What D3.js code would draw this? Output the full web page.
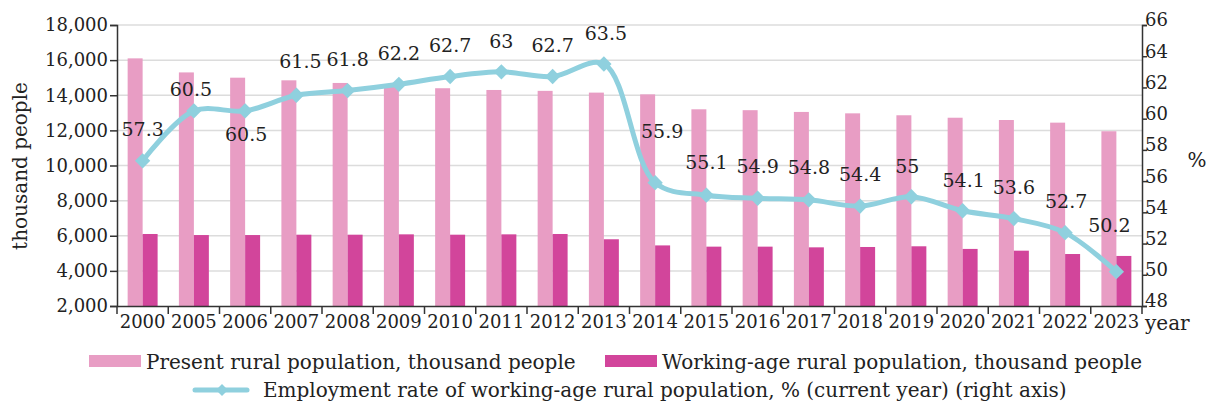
<!DOCTYPE html>
<html>
<head>
<meta charset="utf-8">
<script src="https://cdn.jsdelivr.net/npm/d3@7"></script>
<style>
  body { margin: 0; background: #fff; }
  svg text { font-family: "DejaVu Serif", serif; fill: #222; }
</style>
</head>
<body>
<svg width="1209" height="403"></svg>
<script>
const years = ["2000","2005","2006","2007","2008","2009","2010","2011","2012","2013",
               "2014","2015","2016","2017","2018","2019","2020","2021","2022","2023"];
const presentPop = [16100,15300,15000,14850,14700,14550,14400,14300,14250,14150,
                    14050,13200,13150,13050,12970,12860,12720,12590,12440,11950];
const workingPop = [6100,6040,6040,6060,6060,6080,6060,6080,6100,5800,
                    5450,5380,5380,5340,5360,5400,5250,5150,4960,4850];
const employRate = [57.3,60.5,60.5,61.5,61.8,62.2,62.7,63,62.7,63.5,
                    55.9,55.1,54.9,54.8,54.4,55,54.1,53.6,52.7,50.2];
const leftTicks = [2000,4000,6000,8000,10000,12000,14000,16000,18000];
const rightTicks = [48,50,52,54,56,58,60,62,64,66];

// label nudges [dx, dy] relative to each point
const labelShift = [[0,-31],[-3,-22],[1,23],[4,-34],[0,-31],[0,-31],[0,-31],[0,-30],[0,-31],[2,-31],
                    [7,-51],[0,-33],[0,-32],[0,-32],[0,-32],[-4,-30],[1,-30],[0,-31],[1,-31],[-7,-46]];

const svg = d3.select("svg");
const mLeft = 117, mRight = 1142, mTop = 25, mBottom = 306;
const pink = "#e89dc4", magenta = "#d2459b", blue = "#8fd0de";

const x = d3.scaleBand().domain(years).range([mLeft, mRight]);
const xs = d3.scaleBand().domain(["present","working"]).range([0, x.bandwidth()]).paddingOuter(0.71);
const yL = d3.scaleLinear().domain([2000, 18000]).range([mBottom, mTop]);
const yR = d3.scaleLinear().domain([48, 66]).range([mBottom, mTop]);

// gridlines
svg.append("g")
  .selectAll("line")
  .data(leftTicks.slice(1))
  .join("line")
  .attr("x1", mLeft).attr("x2", mRight)
  .attr("y1", d => yL(d)).attr("y2", d => yL(d))
  .attr("stroke", "#dcdcdc").attr("stroke-width", 1.5);

// bars
const groups = svg.append("g")
  .selectAll("g")
  .data(years.map((y, i) => ({ year: y, present: presentPop[i], working: workingPop[i] })))
  .join("g")
  .attr("transform", d => `translate(${x(d.year)},0)`);

groups.append("rect")
  .attr("x", xs("present")).attr("width", xs.bandwidth())
  .attr("y", d => yL(d.present)).attr("height", d => yL(2000) - yL(d.present))
  .attr("fill", pink);

groups.append("rect")
  .attr("x", xs("working")).attr("width", xs.bandwidth())
  .attr("y", d => yL(d.working)).attr("height", d => yL(2000) - yL(d.working))
  .attr("fill", magenta);

// axes
const axL = svg.append("g")
  .attr("transform", `translate(${mLeft},0)`)
  .call(d3.axisLeft(yL).tickValues(leftTicks).tickFormat(d3.format(",")).tickSize(7).tickPadding(2));
const axR = svg.append("g")
  .attr("transform", `translate(${mRight},0)`)
  .call(d3.axisRight(yR).tickValues(rightTicks).tickSize(5).tickPadding(-2));
const axB = svg.append("g")
  .attr("transform", `translate(0,${mBottom})`)
  .call(d3.axisBottom(x).tickSize(0).tickPadding(8));

[axL, axR, axB].forEach(a => {
  a.select(".domain").attr("stroke", "#333").attr("stroke-width", 1.5);
  a.selectAll(".tick line").attr("stroke", "#333").attr("stroke-width", 1.5);
  a.selectAll("text").attr("font-size", 18).attr("fill", "#222")
    .attr("font-family", "DejaVu Serif, serif");
});
axR.selectAll("text").attr("dy", "0.05em");
axB.selectAll("text").attr("dy", "0.75em");

// boundary ticks on x axis
svg.append("g")
  .selectAll("line")
  .data(years)
  .join("line")
  .attr("x1", d => x(d)).attr("x2", d => x(d))
  .attr("y1", mBottom).attr("y2", mBottom + 8)
  .attr("stroke", "#333").attr("stroke-width", 1.5);
svg.append("line")
  .attr("x1", mRight).attr("x2", mRight)
  .attr("y1", mBottom).attr("y2", mBottom + 8)
  .attr("stroke", "#333").attr("stroke-width", 1.5);

// line
const cx = i => x(years[i]) + x.bandwidth() / 2;
const line = d3.line()
  .x((d, i) => cx(i))
  .y(d => yR(d))
  .curve(d3.curveCatmullRom.alpha(0.5));

svg.append("path")
  .datum(employRate)
  .attr("d", line)
  .attr("fill", "none")
  .attr("stroke", blue)
  .attr("stroke-width", 5)
  .attr("stroke-linejoin", "round");

const diamond = d3.symbol().type(d3.symbolDiamond2).size(150);
svg.append("g")
  .selectAll("path")
  .data(employRate)
  .join("path")
  .attr("d", diamond)
  .attr("transform", (d, i) => `translate(${cx(i)},${yR(d)})`)
  .attr("fill", blue);

svg.append("g")
  .selectAll("text")
  .data(employRate)
  .join("text")
  .attr("x", (d, i) => cx(i) + labelShift[i][0])
  .attr("y", (d, i) => yR(d) + labelShift[i][1])
  .attr("dy", "0.35em")
  .attr("text-anchor", "middle")
  .attr("font-size", 19)
  .text(d => d);

// axis titles
svg.append("text")
  .attr("transform", "translate(20,166) rotate(-90)")
  .attr("text-anchor", "middle")
  .attr("dy", "0.35em")
  .attr("font-size", 20)
  .text("thousand people");
svg.append("text")
  .attr("x", 1197).attr("y", 160)
  .attr("text-anchor", "middle").attr("dy", "0.35em")
  .attr("font-size", 20)
  .text("%");
svg.append("text")
  .attr("x", 1145).attr("y", 323)
  .attr("dy", "0.35em")
  .attr("font-size", 20)
  .text("year");

// legend
const legend = svg.append("g");
legend.append("rect").attr("x", 89).attr("y", 355).attr("width", 52).attr("height", 12).attr("fill", pink);
legend.append("text").attr("x", 146).attr("y", 362).attr("dy", "0.35em").attr("font-size", 20)
  .text("Present rural population, thousand people");
legend.append("rect").attr("x", 605).attr("y", 355).attr("width", 52).attr("height", 12).attr("fill", magenta);
legend.append("text").attr("x", 662).attr("y", 362).attr("dy", "0.35em").attr("font-size", 20)
  .text("Working-age rural population, thousand people");
legend.append("line").attr("x1", 195).attr("x2", 247).attr("y1", 390).attr("y2", 390)
  .attr("stroke", blue).attr("stroke-width", 5).attr("stroke-linecap", "round");
legend.append("path").attr("d", d3.symbol().type(d3.symbolDiamond2).size(90))
  .attr("transform", "translate(222,390)").attr("fill", blue);
legend.append("text").attr("x", 263).attr("y", 390).attr("dy", "0.35em").attr("font-size", 20)
  .text("Employment rate of working-age rural population, % (current year) (right axis)");
</script>
</body>
</html>
